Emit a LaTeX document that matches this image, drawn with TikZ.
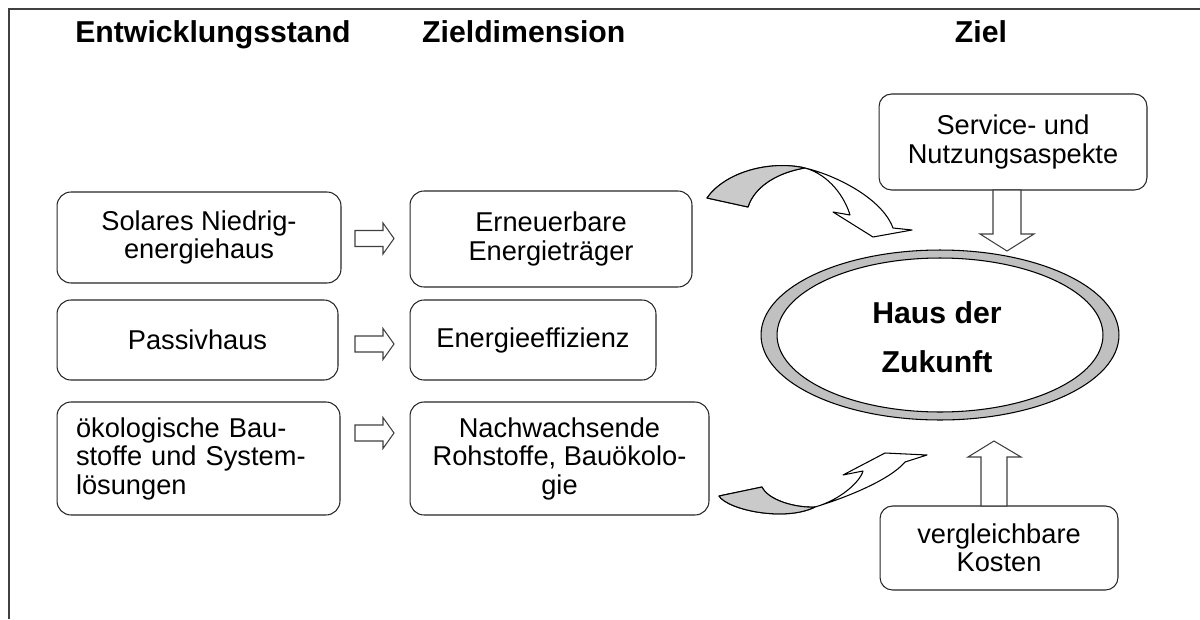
\documentclass[tikz,border=0pt]{standalone}
\usepackage{fontspec}
\setmainfont{Liberation Sans}
\usepackage{tikz}

\definecolor{ringgray}{HTML}{C0C0C0}
\definecolor{ribbongray}{HTML}{CACACA}

\tikzset{
  stage/.style={draw=black!85, line width=0.6pt, rounded corners=0.28cm, align=center, inner sep=0pt, font=\fontsize{15.5}{16.2}\selectfont},
  colhead/.style={font=\bfseries\fontsize{17.2}{20}\selectfont, anchor=base},
  blockarrow/.style={draw=black!75, fill=white, line width=0.6pt, line join=miter},
  ribbon/.style={draw=black, line width=0.6pt, line join=round},
}

\begin{document}
\begin{tikzpicture}[x=0.02cm, y=-0.02cm]
      \useasboundingbox (0,0) rectangle (1200,619);
      % frame
      \draw[black!75, line width=1.1pt] (9,619) -- (9,9) -- (1200,9);
      % column heads
      \node[colhead] (hstand) at (213,42) {Entwicklungsstand};
      \node[colhead, anchor=base west] (hdim) at (416,42) {Zieldimension};
      \node[colhead] (hziel) at (981,42) {Ziel};
      % development stages
      \node[stage, minimum width=5.68cm, minimum height=1.82cm] (solar) at (199,237.5) {Solares Niedrig-\\energiehaus};
      \node[stage, minimum width=5.62cm, minimum height=1.6cm] (passiv) at (197.5,340) {Passivhaus};
      \node[stage, minimum width=5.66cm, minimum height=2.26cm, align=left, text width=4.9cm] (oeko) at (198.5,458.5) {ökologische Bau-\\stoffe und System-\\lösungen};
      % target dimensions
      \node[stage, minimum width=5.64cm, minimum height=1.92cm] (erneu) at (551,239) {Erneuerbare\\Energieträger};
      \node[stage, minimum width=4.92cm, minimum height=1.6cm] (effiz) at (533,340) {Energieeffizienz};
      \node[stage, minimum width=5.98cm, minimum height=2.26cm] (nachw) at (559.5,458.5) {Nachwachsende\\Rohstoffe, Bauökolo-\\gie};
      % goal side
      \node[stage, minimum width=5.36cm, minimum height=1.92cm, rounded corners=0.25cm] (service) at (1013,142) {Service- und\\Nutzungsaspekte};
      \node[stage, minimum width=4.76cm, minimum height=1.68cm, rounded corners=0.25cm] (kosten) at (999,548) {vergleichbare\\Kosten};
      % ring round the goal
      \fill[ringgray, even odd rule] (940,335) ellipse [x radius=3.58cm, y radius=1.7cm] (940,335) ellipse [x radius=3.26cm, y radius=1.54cm];
      \draw[line width=0.6pt] (940,335) ellipse [x radius=3.58cm, y radius=1.7cm];
      \draw[line width=0.6pt] (940,335) ellipse [x radius=3.26cm, y radius=1.54cm];
      \node[font=\bfseries\fontsize{17.2}{27.9}\selectfont, align=center] (haus) at (937,337) {Haus der\\Zukunft};
      % small block arrows
      \foreach \y in {238.5,344,433}
      \draw[blockarrow] (355,\y) ++(0,-8) -- ++(28,0) -- ++(0,-7.5) -- ++(11,15.5) -- ++(-11,15.5) -- ++(0,-7.5) -- ++(-28,0) -- cycle;
      \draw[blockarrow] (993,190) -- (1021,190) -- (1021,234) -- (1034,234) -- (1007,251) -- (980,234) -- (993,234) -- cycle;
      \draw[blockarrow] (981,506) -- (981,457) -- (968,457) -- (994,441) -- (1021,457) -- (1007,457) -- (1007,506) -- cycle;
      % upper curved arrow
      \draw[ribbon, fill=white] (707,198) .. controls (725,172) and (770,160) .. (805,168)
        .. controls (835,175) and (882,198) .. (893,228) -- (912,230) -- (873,237) -- (833,212) -- (850,215)
        .. controls (845,198) and (830,175) .. (805,168)
        .. controls (780,172) and (755,185) .. (748,207) -- cycle;
      \draw[ribbon, fill=ribbongray] (707,198) .. controls (725,172) and (770,160) .. (805,168)
        .. controls (780,172) and (755,185) .. (748,207) -- cycle;
      % lower curved arrow
      \draw[ribbon, fill=white] (719,496) .. controls (728,510) and (785,522) .. (815,507)
        .. controls (845,498) and (890,480) .. (905,462) -- (927,455) -- (885,453) -- (843,475) -- (863,471)
        .. controls (860,482) and (840,500) .. (815,507)
        .. controls (795,508) and (768,500) .. (762,487) -- cycle;
      \draw[ribbon, fill=ribbongray] (719,496) .. controls (728,510) and (785,522) .. (815,507)
        .. controls (795,508) and (768,500) .. (762,487) -- cycle;
\end{tikzpicture}
\end{document}
